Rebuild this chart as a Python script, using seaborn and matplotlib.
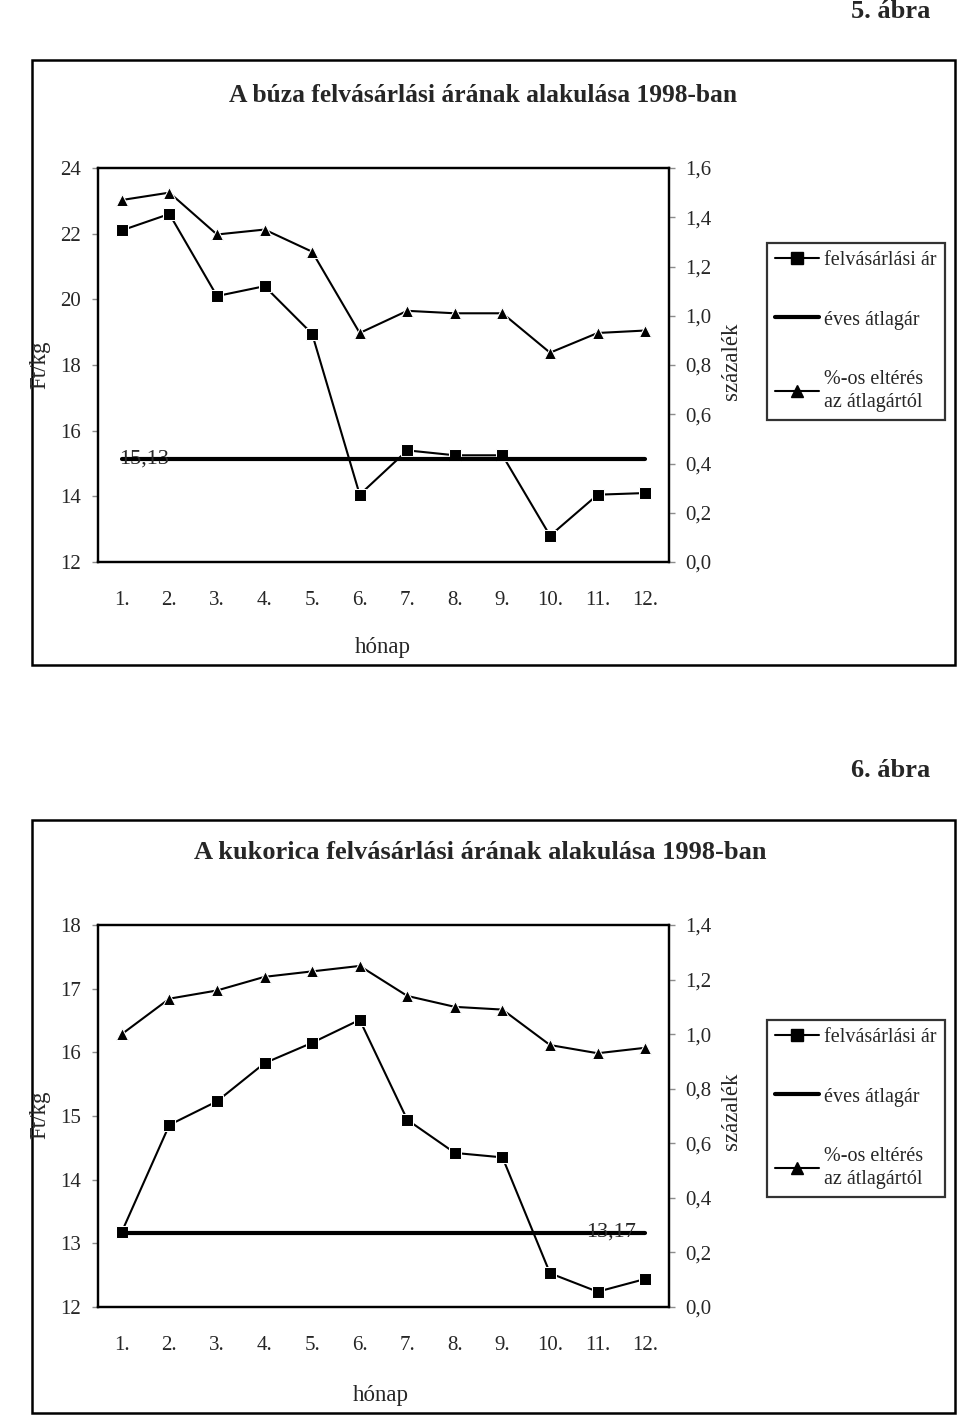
import numpy as np
import matplotlib
matplotlib.use("Agg")
import matplotlib.pyplot as plt
from matplotlib.lines import Line2D
from matplotlib.patches import Rectangle
from matplotlib.ticker import FixedLocator, FuncFormatter
import seaborn as sns

# data
months = ["1.", "2.", "3.", "4.", "5.", "6.", "7.", "8.", "9.", "10.", "11.", "12."]

wheat_price = [22.1, 22.6, 20.1, 20.4, 18.95, 14.05, 15.4, 15.25, 15.25, 12.8, 14.05, 14.1]
wheat_avg = 15.13
wheat_ratio = [1.47, 1.50, 1.33, 1.35, 1.26, 0.93, 1.02, 1.01, 1.01, 0.85, 0.93, 0.94]

corn_price = [13.18, 14.86, 15.23, 15.83, 16.15, 16.51, 14.94, 14.42, 14.35, 12.53, 12.24, 12.44]
corn_avg = 13.17
corn_ratio = [1.00, 1.13, 1.16, 1.21, 1.23, 1.25, 1.14, 1.10, 1.09, 0.96, 0.93, 0.95]

sns.set_style("white")
plt.rcParams['font.family'] = ['Liberation Serif', 'DejaVu Serif']

W, H = 960, 1418
fig = plt.figure(figsize=(W / 100, H / 100), dpi=100)


def fx(px):
    return px / W


def fy(py):
    return 1 - py / H


comma = FuncFormatter(lambda v, p: f"{v:.1f}".replace(".", ","))


def make_chart(top, bottom, price, avg, ratio, ylim, rlim, avg_label, label_left):
    x = np.arange(len(months))
    ax = fig.add_axes([fx(98), fy(bottom), fx(669) - fx(98), (bottom - top) / H])
    axr = ax.twinx()
    sns.lineplot(x=x, y=price, marker="s", markersize=8, color="black",
                 linewidth=1.5, sort=False, ax=ax)
    sns.lineplot(x=[x[0], x[-1]], y=[avg, avg], color="black", linewidth=3,
                 sort=False, ax=ax)
    sns.lineplot(x=x, y=ratio, marker="^", markersize=9, color="black",
                 linewidth=1.5, sort=False, ax=axr)
    ax.set_xlim(-0.5, len(months) - 0.5)
    ax.set_ylim(*ylim)
    axr.set_ylim(*rlim)
    ax.set_yticks(np.arange(ylim[0], ylim[1] + 0.1, 2 if ylim[1] - ylim[0] > 6 else 1))
    axr.set_yticks(np.arange(rlim[0], rlim[1] + 0.01, 0.2))
    axr.yaxis.set_major_formatter(comma)
    ax.set_xticks(x)
    ax.set_xticklabels(months)
    ax.xaxis.set_minor_locator(FixedLocator(np.arange(-0.5, len(months), 1.0)))
    ax.tick_params(axis="x", which="major", length=0, pad=21, labelsize=15)
    ax.tick_params(axis="x", which="minor", length=4, width=1, color="0.55", direction="out")
    ax.tick_params(axis="y", length=4, width=1, color="0.55", direction="out", pad=8,
                   labelsize=15, left=True)
    axr.tick_params(axis="y", length=4, width=1, color="0.55", direction="out", pad=8,
                    labelsize=15, right=True)
    for a in (ax, axr):
        for s in a.spines.values():
            s.set_color("black")
            s.set_linewidth(1.6)
        a.set_xlabel("")
        a.set_ylabel("")
    if label_left:
        ax.text(x[0] - 0.05, avg, avg_label, ha="left", va="center", fontsize=16)
    else:
        ax.text(x[-1] - 0.2, avg, avg_label, ha="right", va="center", fontsize=16)
    return ax


make_chart(168, 562, wheat_price, wheat_avg, wheat_ratio, (12, 24), (0, 1.6), "15,13", True)
make_chart(925, 1307, corn_price, corn_avg, corn_ratio, (12, 18), (0, 1.4), "13,17", False)

# outer frames
for top, bottom in [(60, 665), (820, 1413)]:
    fig.patches.append(Rectangle((fx(32), fy(bottom)), fx(955) - fx(32), (bottom - top) / H,
                                 transform=fig.transFigure, fill=False,
                                 edgecolor="black", linewidth=1.8))

fig.text(fx(930), fy(12), "5. ábra", ha="right", va="center", fontsize=19, fontweight="bold")
fig.text(fx(930), fy(770), "6. ábra", ha="right", va="center", fontsize=19, fontweight="bold")
fig.text(fx(483), fy(95), "A búza felvásárlási árának alakulása 1998-ban",
         ha="center", va="center", fontsize=18.4, fontweight="bold")
fig.text(fx(480), fy(853), "A kukorica felvásárlási árának alakulása 1998-ban",
         ha="center", va="center", fontsize=19, fontweight="bold")

for yc in (365, 1115):
    fig.text(fx(40), fy(yc), "Ft/kg", rotation=90, ha="center", va="center", fontsize=16.5)
    fig.text(fx(731), fy(yc - 4), "százalék", rotation=90, ha="center", va="center", fontsize=16.5)
fig.text(fx(383), fy(648), "hónap", ha="center", va="center", fontsize=16.5)
fig.text(fx(381), fy(1395), "hónap", ha="center", va="center", fontsize=16.5)

handles = [
    Line2D([], [], color="black", marker="s", markersize=8, linewidth=1.5),
    Line2D([], [], color="black", linewidth=3),
    Line2D([], [], color="black", marker="^", markersize=9, linewidth=1.5),
]
labels = ["felvásárlási ár", "éves átlagár", "%-os eltérés\naz átlagártól"]
for top in (243, 1020):
    leg = fig.legend(handles, labels, loc="upper left", bbox_to_anchor=(fx(767), fy(top)),
                     frameon=True, fancybox=False, edgecolor="black", fontsize=14.5,
                     handlelength=2.2, labelspacing=2.0, borderaxespad=0, borderpad=0.4,
                     handletextpad=0.25)
    leg.get_frame().set_linewidth(1.6)
    for t in leg.get_texts():
        t.set_linespacing(1.3)

fig.savefig("out.png", dpi=100)
